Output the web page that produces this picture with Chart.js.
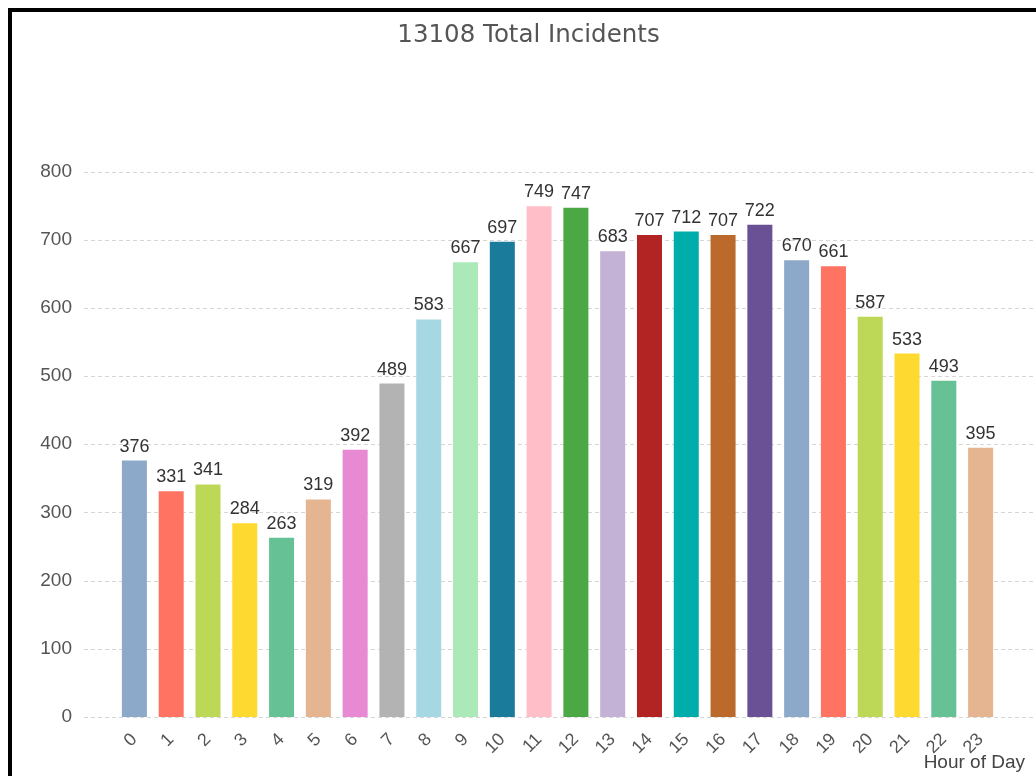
<!DOCTYPE html>
<html>
<head>
<meta charset="utf-8">
<script src="https://cdn.jsdelivr.net/npm/chart.js@4.4.1/dist/chart.umd.min.js"></script>
<style>
  html, body { margin: 0; padding: 0; background: #fff; overflow: hidden; }
  #frame {
    position: absolute; left: 8px; top: 8px;
    width: 1200px; height: 1000px;
    border: 4px solid #000; box-sizing: border-box;
  }
  #wrap { position: absolute; left: 0; top: 0; width: 1036px; height: 776px; }
</style>
</head>
<body>
<div id="frame"></div>
<div id="wrap"><canvas id="chart" width="1036" height="776"></canvas></div>
<script>
// hours of the day and incident counts
const hours = ['0','1','2','3','4','5','6','7','8','9','10','11','12','13','14','15','16','17','18','19','20','21','22','23'];
const incidents = [376, 331, 341, 284, 263, 319, 392, 489, 583, 667, 697, 749, 747, 683, 707, 712, 707, 722, 670, 661, 587, 533, 493, 395];
const yTicks = [0, 100, 200, 300, 400, 500, 600, 700, 800];
const barColors = [
  '#8ca9c9', '#fe7362', '#bdd856', '#fed92f', '#66c295', '#e5b491',
  '#e78ad3', '#b3b3b3', '#a6d8e3', '#abe9b9', '#1b7b9a', '#ffbec8',
  '#4ca844', '#c3b1d6', '#b22324', '#00adab', '#bb6a2c', '#6a5195',
  '#8ca9c9', '#fe7362', '#bdd856', '#fed92f', '#66c295', '#e5b491'
];
const chartTitle = '13108 Total Incidents';
const xTitle = 'Hour of Day';

// dashed horizontal grid lines, a bit wider than the plot area
const dashedGrid = {
  id: 'dashedGrid',
  beforeDatasetsDraw(chart) {
    const { ctx } = chart;
    const y = chart.scales.y;
    ctx.save();
    ctx.strokeStyle = '#d6d6d6';
    ctx.lineWidth = 1;
    ctx.setLineDash([4, 3]);
    yTicks.forEach(v => {
      const py = Math.round(y.getPixelForValue(v)) + 0.5;
      ctx.beginPath();
      ctx.moveTo(84, py);
      ctx.lineTo(chart.width, py);
      ctx.stroke();
    });
    ctx.restore();
  }
};

// value above each bar, title and axis caption
const barLabels = {
  id: 'barLabels',
  afterDatasetsDraw(chart) {
    const { ctx } = chart;
    const meta = chart.getDatasetMeta(0);
    ctx.save();
    ctx.font = '18px "Liberation Sans", Arial, sans-serif';
    ctx.fillStyle = '#333';
    ctx.textAlign = 'center';
    ctx.textBaseline = 'alphabetic';
    meta.data.forEach((bar, i) => {
      ctx.fillText(String(incidents[i]), bar.x, bar.y - 9);
    });
    ctx.restore();
  },
  afterDraw(chart) {
    const { ctx } = chart;
    ctx.save();
    ctx.fillStyle = '#555';
    ctx.textAlign = 'center';
    ctx.textBaseline = 'middle';
    ctx.font = '24.5px "DejaVu Sans", Verdana, sans-serif';
    ctx.fillText(chartTitle, 528.5, 36);
    ctx.font = '19px "Liberation Sans", Arial, sans-serif';
    ctx.fillStyle = '#444';
    ctx.textAlign = 'right';
    ctx.textBaseline = 'alphabetic';
    ctx.fillText(xTitle, 1025, 768);
    ctx.restore();
  }
};

new Chart(document.getElementById('chart'), {
  type: 'bar',
  data: {
    labels: hours,
    datasets: [{
      data: incidents,
      backgroundColor: barColors,
      borderWidth: 0,
      categoryPercentage: 1,
      barPercentage: 0.68
    }]
  },
  options: {
    responsive: false,
    animation: false,
    layout: { padding: { left: 20, right: 37, top: 171.5, bottom: 19 } },
    scales: {
      x: {
        grid: { display: false, drawTicks: false },
        border: { display: false },
        ticks: {
          minRotation: 45, maxRotation: 45,
          padding: 12,
          color: '#555',
          font: { size: 18, family: '"Liberation Sans", Arial, sans-serif' }
        },
        afterFit(scale) { scale.height = 40; }
      },
      y: {
        min: 0, max: 800,
        grid: { display: false, drawTicks: false },
        border: { display: false },
        ticks: {
          stepSize: 100,
          padding: 44,
          color: '#555',
          font: { size: 19, family: '"Liberation Sans", Arial, sans-serif' }
        },
        afterFit(scale) { scale.width = 96; }
      }
    },
    plugins: {
      legend: { display: false },
      tooltip: { enabled: false },
      title: { display: false }
    }
  },
  plugins: [dashedGrid, barLabels]
});
</script>
</body>
</html>
